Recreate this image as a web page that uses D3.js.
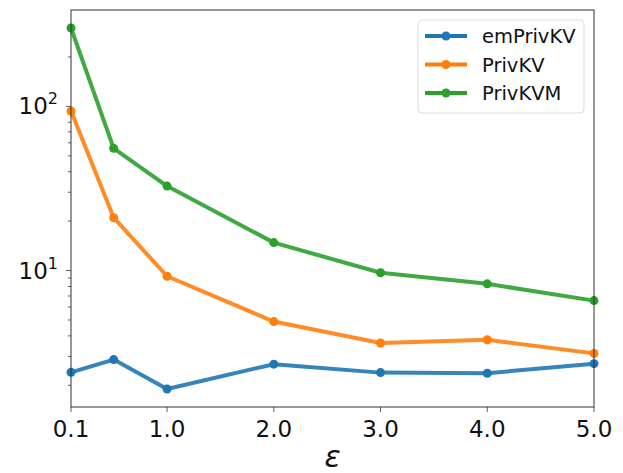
<!DOCTYPE html>
<html>
<head>
<meta charset="utf-8">
<script src="https://cdn.jsdelivr.net/npm/d3@7"></script>
<style>
  body { margin: 0; background: #fff; }
  svg { font-family: "DejaVu Sans", sans-serif; }
</style>
</head>
<body>
<svg id="chart"></svg>
<script>
var width = 623;
var height = 473;

// epsilon values
var epsilons = [0.1, 0.5, 1.0, 2.0, 3.0, 4.0, 5.0];
var xTicks = [0.1, 1.0, 2.0, 3.0, 4.0, 5.0];
var yTicks = [10, 100];

var seriesNames = ['emPrivKV', 'PrivKV', 'PrivKVM'];
var emPrivKV = [2.40, 2.87, 1.90, 2.69, 2.39, 2.37, 2.71];
var privKV = [93.6, 21.0, 9.23, 4.89, 3.62, 3.79, 3.13];
var privKVM = [300, 55.5, 32.7, 14.8, 9.7, 8.3, 6.56];
var colors = ['#1f77b4', '#ff7f0e', '#2ca02c'];

var margin = {left: 71, right: 29, top: 10, bottom: 66};

var svg = d3.select('#chart')
    .attr('width', width)
    .attr('height', height);

var x = d3.scaleLinear()
    .domain([0.1, 5.0])
    .range([margin.left, width - margin.right]);

var y = d3.scaleLog()
    .domain([Math.pow(10, 0.169), Math.pow(10, 2.587)])
    .range([height - margin.bottom, margin.top]);

// minor ticks on log axis
var minor = [];
[1, 10, 100].forEach(function(dec) {
    for (var k = 2; k <= 9; k++) {
        var v = dec * k;
        if (v >= y.domain()[0] && v <= y.domain()[1]) minor.push(v);
    }
});

var axisG = svg.append('g');
var x0 = margin.left, x1 = width - margin.right;
var y0 = height - margin.bottom, y1 = margin.top;

axisG.selectAll('.minor')
    .data(minor)
    .enter().append('line')
    .attr('x1', x0).attr('x2', x0 - 3)
    .attr('y1', function(d) { return y(d); })
    .attr('y2', function(d) { return y(d); })
    .attr('stroke', '#333').attr('stroke-width', 0.8);

axisG.selectAll('.major')
    .data(yTicks)
    .enter().append('line')
    .attr('x1', x0).attr('x2', x0 - 5)
    .attr('y1', function(d) { return y(d); })
    .attr('y2', function(d) { return y(d); })
    .attr('stroke', '#333').attr('stroke-width', 0.8);

var yLab = axisG.selectAll('.ylab')
    .data(yTicks)
    .enter().append('text')
    .attr('x', x0 - 13)
    .attr('y', function(d) { return y(d) + 8; })
    .attr('text-anchor', 'end')
    .attr('font-size', 23)
    .attr('fill', '#111');
yLab.append('tspan').text('10');
yLab.append('tspan')
    .attr('dy', -10)
    .attr('font-size', 16)
    .text(function(d) { return Math.round(Math.log10(d)); });

axisG.selectAll('.xtick')
    .data(xTicks)
    .enter().append('line')
    .attr('x1', function(d) { return x(d); })
    .attr('x2', function(d) { return x(d); })
    .attr('y1', y0).attr('y2', y0 + 5)
    .attr('stroke', '#333').attr('stroke-width', 0.8);

axisG.selectAll('.xlab')
    .data(xTicks)
    .enter().append('text')
    .attr('x', function(d) { return x(d); })
    .attr('y', y0 + 30)
    .attr('text-anchor', 'middle')
    .attr('font-size', 23)
    .attr('fill', '#111')
    .text(function(d) { return d.toFixed(1); });

svg.append('text')
    .attr('x', (x0 + x1) / 2)
    .attr('y', height - 6)
    .attr('text-anchor', 'middle')
    .attr('font-size', 30)
    .attr('font-style', 'italic')
    .attr('fill', '#111')
    .text('ε');

// lines
var line = d3.line()
    .x(function(d, i) { return x(epsilons[i]); })
    .y(function(d) { return y(d); });

var allSeries = [emPrivKV, privKV, privKVM];
allSeries.forEach(function(vals, i) {
    var g = svg.append('g');
    g.append('path')
        .datum(vals)
        .attr('d', line)
        .attr('fill', 'none')
        .attr('stroke', colors[i])
        .attr('stroke-width', 4)
        .attr('stroke-linejoin', 'round')
        .attr('opacity', 0.9);
    g.selectAll('circle')
        .data(vals)
        .enter().append('circle')
        .attr('cx', function(d, j) { return x(epsilons[j]); })
        .attr('cy', function(d) { return y(d); })
        .attr('r', 4.5)
        .attr('fill', colors[i]);
});

// frame
svg.append('rect')
    .attr('x', x0).attr('y', y1)
    .attr('width', x1 - x0).attr('height', y0 - y1)
    .attr('fill', 'none')
    .attr('stroke', '#333')
    .attr('stroke-width', 1);

// legend
var leg = svg.append('g');
leg.append('rect')
    .attr('x', 418).attr('y', 20)
    .attr('width', 166).attr('height', 93)
    .attr('rx', 4)
    .attr('fill', '#fff')
    .attr('fill-opacity', 0.8)
    .attr('stroke', '#ddd');
seriesNames.forEach(function(name, i) {
    var cy = 36 + i * 28.5;
    leg.append('line')
        .attr('x1', 425).attr('x2', 467)
        .attr('y1', cy).attr('y2', cy)
        .attr('stroke', colors[i]).attr('stroke-width', 4);
    leg.append('circle')
        .attr('cx', 446).attr('cy', cy).attr('r', 4.5)
        .attr('fill', colors[i]);
    leg.append('text')
        .attr('x', 482).attr('y', cy + 7)
        .attr('font-size', 19.5)
        .attr('fill', '#111')
        .text(name);
});
</script>
</body>
</html>
